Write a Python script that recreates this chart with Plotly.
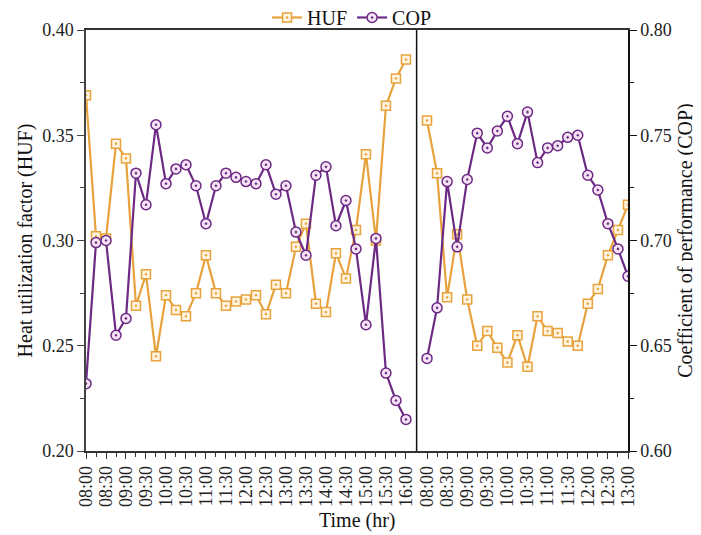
import plotly.graph_objects as go

# Time in minutes after 08:00, 15-min steps
left_times = [15 * i for i in range(33)]    # 08:00 .. 16:00
right_times = [15 * j for j in range(21)]   # 08:00 .. 13:00

huf_left = [0.369, 0.302, 0.301, 0.346, 0.339, 0.269, 0.284, 0.245, 0.274, 0.267,
            0.264, 0.275, 0.293, 0.275, 0.269, 0.271, 0.272, 0.274, 0.265, 0.279,
            0.275, 0.297, 0.308, 0.270, 0.266, 0.294, 0.282, 0.305, 0.341, 0.300,
            0.364, 0.377, 0.386]
cop_left = [0.632, 0.699, 0.700, 0.655, 0.663, 0.732, 0.717, 0.755, 0.727, 0.734,
            0.736, 0.726, 0.708, 0.726, 0.732, 0.730, 0.728, 0.727, 0.736, 0.722,
            0.726, 0.704, 0.693, 0.731, 0.735, 0.707, 0.719, 0.696, 0.660, 0.701,
            0.637, 0.624, 0.615]
huf_right = [0.357, 0.332, 0.273, 0.303, 0.272, 0.250, 0.257, 0.249, 0.242, 0.255,
             0.240, 0.264, 0.257, 0.256, 0.252, 0.250, 0.270, 0.277, 0.293, 0.305,
             0.317]
cop_right = [0.644, 0.668, 0.728, 0.697, 0.729, 0.751, 0.744, 0.752, 0.759, 0.746,
             0.761, 0.737, 0.744, 0.745, 0.749, 0.750, 0.731, 0.724, 0.708, 0.696,
             0.683]

left_ticklabels = ["08:00", "08:30", "09:00", "09:30", "10:00", "10:30", "11:00", "11:30",
                   "12:00", "12:30", "13:00", "13:30", "14:00", "14:30", "15:00", "15:30", "16:00"]
right_ticklabels = ["08:00", "08:30", "09:00", "09:30", "10:00", "10:30", "11:00", "11:30",
                    "12:00", "12:30", "13:00"]

HUF_C = "#E8A23C"
COP_C = "#6C2A84"
FONT = "Liberation Serif"

huf_marker = dict(symbol="square-dot", size=9, color="#FFF4E0",
                  line=dict(color=HUF_C, width=1.5))
cop_marker = dict(symbol="circle-dot", size=10, color="#F6E4F6",
                  line=dict(color=COP_C, width=1.5))

fig = go.Figure()
fig.add_trace(go.Scatter(x=left_times, y=huf_left, mode="lines+markers", name="HUF",
                         line=dict(color=HUF_C, width=2.2), marker=huf_marker,
                         xaxis="x", yaxis="y", legendgroup="huf"))
fig.add_trace(go.Scatter(x=left_times, y=cop_left, mode="lines+markers", name="COP",
                         line=dict(color=COP_C, width=2.2), marker=cop_marker,
                         xaxis="x", yaxis="y2", legendgroup="cop"))
fig.add_trace(go.Scatter(x=right_times, y=huf_right, mode="lines+markers", name="HUF",
                         line=dict(color=HUF_C, width=2.2), marker=huf_marker,
                         xaxis="x2", yaxis="y", legendgroup="huf", showlegend=False))
fig.add_trace(go.Scatter(x=right_times, y=cop_right, mode="lines+markers", name="COP",
                         line=dict(color=COP_C, width=2.2), marker=cop_marker,
                         xaxis="x2", yaxis="y2", legendgroup="cop", showlegend=False))

split = 0.61
tickfont = dict(family=FONT, size=18, color="#222")
titlefont = dict(family=FONT, size=20, color="#111")

fig.update_layout(
    width=693, height=527,
    margin=dict(l=78, r=73, t=22, b=84, autoexpand=False),
    paper_bgcolor="white", plot_bgcolor="white",
    font=dict(family=FONT, color="#111"),
    legend=dict(orientation="h", x=0.49, xanchor="center", xref="paper",
                y=0.982, yanchor="middle", yref="container",
                font=dict(family=FONT, size=20, color="#111"),
                bgcolor="rgba(0,0,0,0)", itemwidth=30, tracegroupgap=0),
    xaxis=dict(domain=[0, split], range=[0, 496], automargin=False,
               tickvals=[30 * k for k in range(len(left_ticklabels))],
               ticktext=left_ticklabels, tickangle=-90, tickfont=tickfont,
               ticks="outside", ticklen=6, tickwidth=1.2, tickcolor="#333",
               minor=dict(tickvals=[15 + 30 * k for k in range(16)], ticks="outside",
                          ticklen=4, tickwidth=1.2, tickcolor="#333"),
               showline=True, linecolor="#333", linewidth=1.5, mirror=True,
               showgrid=False, zeroline=False, anchor="y"),
    xaxis2=dict(domain=[split, 1], range=[-15.5, 300], automargin=False,
                tickvals=[30 * k for k in range(len(right_ticklabels))],
                ticktext=right_ticklabels, tickangle=-90, tickfont=tickfont,
                ticks="outside", ticklen=6, tickwidth=1.2, tickcolor="#333",
                minor=dict(tickvals=[15 + 30 * k for k in range(10)], ticks="outside",
                           ticklen=4, tickwidth=1.2, tickcolor="#333"),
                showline=True, linecolor="#333", linewidth=1.5, mirror=True,
                showgrid=False, zeroline=False, anchor="y"),
    yaxis=dict(range=[0.20, 0.40], tickvals=[0.20, 0.25, 0.30, 0.35, 0.40],
               tickformat=".2f", tickfont=tickfont, automargin=False,
               ticks="outside", ticklen=7, tickwidth=1.2, tickcolor="#444",
               minor=dict(tickvals=[0.225, 0.275, 0.325, 0.375], ticks="outside",
                          ticklen=4, tickwidth=1.2, tickcolor="#444"),
               showline=True, linecolor="#444", linewidth=1.5,
               showgrid=False, zeroline=False, anchor="x",
               title=dict(text="Heat utilization factor (HUF)", font=titlefont, standoff=4)),
    yaxis2=dict(range=[0.60, 0.80], tickvals=[0.60, 0.65, 0.70, 0.75, 0.80],
                tickformat=".2f", tickfont=tickfont, overlaying="y", side="right",
                automargin=False,
                ticks="outside", ticklen=7, tickwidth=1.2, tickcolor="#111",
                minor=dict(tickvals=[0.625, 0.675, 0.725, 0.775], ticks="outside",
                           ticklen=4, tickwidth=1.2, tickcolor="#111"),
                showline=True, linecolor="#111", linewidth=1.5,
                showgrid=False, zeroline=False, anchor="x2",
                title=dict(text="Coefficient of performance (COP)", font=titlefont, standoff=7)),
    annotations=[dict(text="Time (hr)", x=0.5, xref="paper", y=-0.164, yref="paper",
                      xanchor="center", yanchor="middle", showarrow=False, font=titlefont)],
    shapes=[dict(type="line", xref="paper", yref="paper", x0=split, x1=split, y0=0, y1=1,
                 line=dict(color="#111", width=1.5))],
)

fig.write_html("out.html")
